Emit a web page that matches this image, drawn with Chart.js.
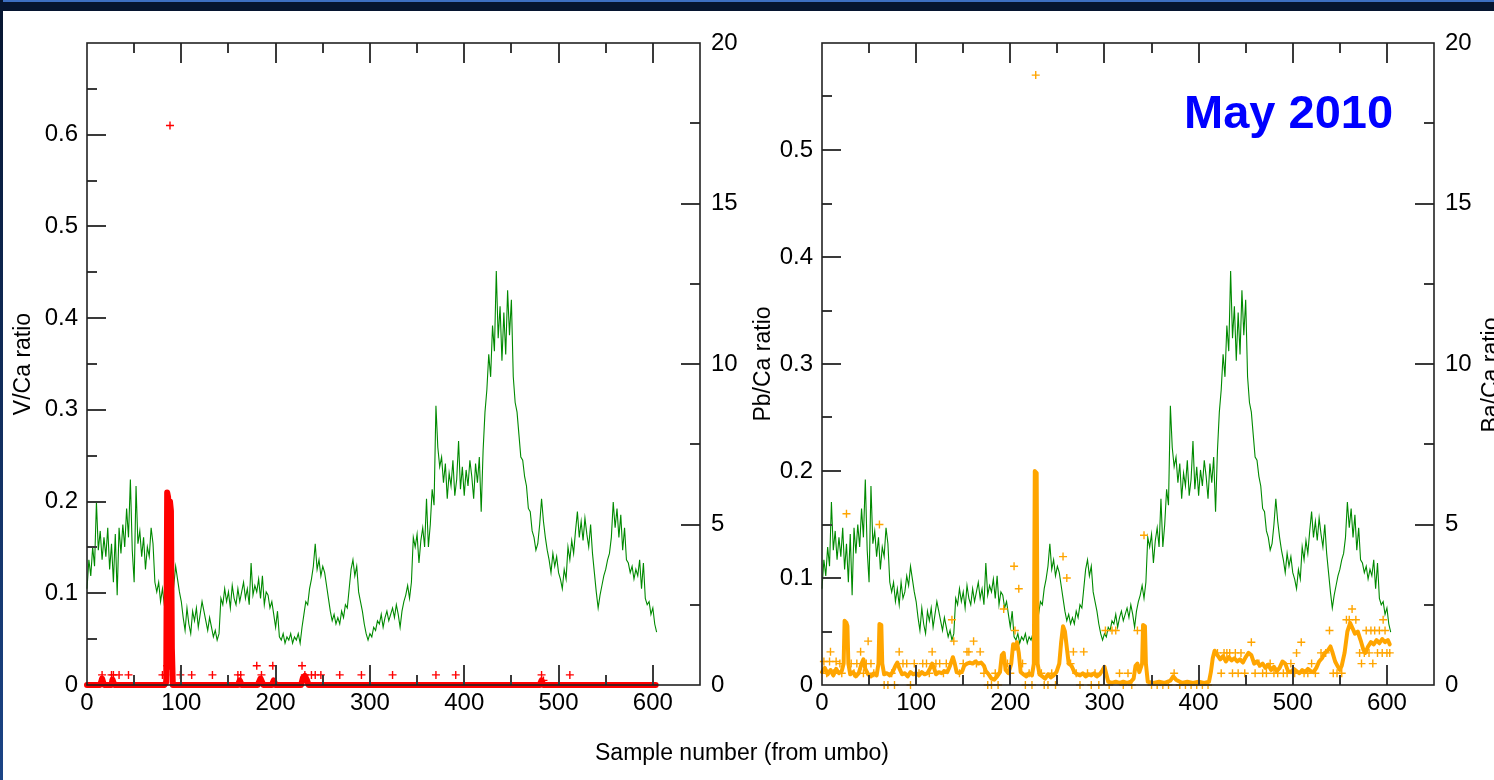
<!DOCTYPE html>
<html>
<head>
<meta charset="utf-8">
<script src="https://cdn.jsdelivr.net/npm/chart.js@4.4.1/dist/chart.umd.min.js"></script>
<style>
  html, body { margin: 0; padding: 0; width: 1494px; height: 780px; overflow: hidden; background: #fff;
    font-family: "Liberation Sans", Arial, sans-serif; }
  #topbar { position: absolute; left: 0; top: 0; width: 1494px; height: 11px; background: #061530;
    border-top: 2px solid #3d6fc2; box-sizing: border-box; }
  #leftbar { position: absolute; left: 0; top: 0; width: 3px; height: 780px; background: linear-gradient(#061530, #1b4486); }
  canvas { position: absolute; top: 0; }
  #chartA { left: 0; }
  #chartB { left: 740px; }
  .lbl { position: absolute; color: #000; white-space: nowrap; }
  #xTitle { left: 0; width: 1484px; text-align: center; top: 741px; font-size: 23px; line-height: 23px; }
  #dateTitle { left: 1184px; top: 88px; font-size: 47px; line-height: 47px; font-weight: bold; color: #0000ff; }
  #baTitle { left: 1390px; top: 363px; width: 200px; height: 24px; line-height: 24px; font-size: 23px;
    text-align: center; transform: rotate(-90deg); }
</style>
</head>
<body>
<div id="topbar"></div>
<div id="leftbar"></div>
<canvas id="chartA" width="760" height="780"></canvas>
<canvas id="chartB" width="754" height="780"></canvas>
<div class="lbl" id="xTitle">Sample number (from umbo)</div>
<div class="lbl" id="dateTitle">May 2010</div>
<div class="lbl" id="baTitle">Ba/Ca ratio</div>
<script>
"use strict";

// ---------------- DATA ----------------
const xTicks = [0, 100, 200, 300, 400, 500, 600];
const vcaTicks = [0, 0.1, 0.2, 0.3, 0.4, 0.5, 0.6];
const pbcaTicks = [0, 0.1, 0.2, 0.3, 0.4, 0.5];
const bacaTicks = [0, 5, 10, 15, 20];

// Ba/Ca (right axis, both panels), one value every 2 samples from 0
const baStep = 2;
const baValues = [
  3.0, 3.9, 3.4, 4.3, 3.7, 5.7, 4.2, 4.8, 3.9, 4.6, 4.0,
  4.9, 3.6, 4.4, 3.2, 4.7, 2.8, 4.9, 4.1, 5.0, 4.3,
  5.5, 4.6, 6.4, 4.2, 3.2, 6.2, 4.4, 4.8, 4.0, 4.6,
  3.6, 4.3, 4.0, 4.9, 4.4, 3.2, 2.9, 3.2, 2.6, 3.0,
  2.5, 3.2, 2.7, 2.9, 3.4, 3.1, 3.7, 3.3, 2.9, 2.6,
  2.1, 1.7, 2.4, 1.9, 1.6, 2.3, 2.0, 2.4, 1.8, 2.2,
  2.6, 2.3, 2.0, 1.7, 2.1, 1.8, 1.5, 1.7, 1.4, 1.6,
  2.7, 2.5, 3.0, 2.6, 2.9, 2.4, 3.1, 2.7, 2.5, 3.0,
  2.6, 2.9, 3.2, 2.7, 3.0, 2.5, 3.8, 2.8, 3.1, 2.9,
  3.3, 2.7, 3.4, 2.5, 2.9, 2.8, 2.4, 2.6, 2.2, 1.8,
  2.3, 1.5, 1.4, 1.6, 1.3, 1.5, 1.4, 1.6, 1.3, 1.5,
  1.4, 1.6, 1.3, 1.8, 2.2, 2.6, 2.5, 3.0, 3.3, 3.7,
  4.4, 3.6, 3.9, 3.4, 3.7, 3.5, 3.1, 2.7, 2.3, 2.0,
  2.2, 1.9, 2.1, 1.9, 2.3, 2.1, 2.5, 2.4, 3.0, 3.6,
  3.9, 3.4, 3.7, 2.9, 2.6, 2.3, 1.9, 1.6, 1.4, 1.6,
  1.5, 1.8, 1.7, 2.0, 1.9, 2.2, 1.8, 2.1, 2.3, 2.0,
  2.2, 2.4, 2.1, 2.5, 2.2, 1.8, 2.3, 2.6, 2.8, 3.1,
  2.7, 3.2, 4.6, 4.3, 4.7, 3.8, 4.5, 4.9, 4.3, 5.8,
  4.3, 5.0, 6.1, 5.6, 8.7, 7.4, 6.8, 7.1, 6.3, 6.9,
  5.8, 6.6, 6.2, 7.0, 5.9, 6.4, 7.6, 6.1, 6.8, 5.9,
  6.7, 6.2, 7.0, 6.5, 5.8, 6.9, 6.3, 7.1, 5.4, 7.3,
  8.5, 9.2, 10.3, 9.6, 11.2, 10.4, 12.9, 10.8, 11.8, 10.1,
  11.6, 10.3, 12.3, 10.9, 12.0, 9.6, 8.8, 8.5, 7.8, 7.1,
  7.0, 6.5, 6.2, 5.5, 5.4, 4.8, 4.6, 4.2, 4.4, 5.0,
  5.8, 5.1, 4.6, 4.2, 3.9, 3.5, 4.1, 3.7, 4.0, 3.5,
  3.3, 3.0, 3.6, 3.3, 4.3, 3.9, 4.5, 4.1, 4.8, 5.4,
  4.6, 5.1, 4.5, 5.2, 4.7, 4.3, 5.0, 4.1, 3.5, 2.9,
  2.4, 2.8, 3.1, 3.4, 3.6, 3.9, 4.1, 4.6, 5.7, 4.9,
  5.5, 4.6, 5.3, 4.2, 4.9, 3.9, 3.8, 3.5, 3.7, 3.3,
  3.6, 3.4, 3.9, 3.0, 3.8, 2.7, 2.5, 2.6, 2.2, 2.4,
  1.9, 1.65
];

// V/Ca smoothed line
const vcaLineX = [0, 14, 16, 18, 26, 27, 29, 82, 84, 85, 86, 87, 88, 89, 90, 91, 160, 162, 164,
  181, 184, 187, 196, 198, 200, 227, 229, 231, 233, 235, 480, 482, 484, 603];
const vcaLineY = [0, 0, 0.007, 0, 0, 0.006, 0, 0, 0.003, 0.21, 0.205, 0.02, 0.2, 0.19, 0.04, 0, 0, 0.005, 0,
  0, 0.007, 0, 0, 0.005, 0, 0, 0.008, 0.01, 0.006, 0, 0, 0.005, 0, 0];

// V/Ca raw points
const vcaRawX = [16, 26, 28, 34, 44, 80, 83, 85, 88, 99, 111, 133, 160, 163, 180, 185, 197, 228, 231,
  238, 242, 248, 268, 291, 324, 370, 391, 482, 484, 512];
const vcaRawY = [0.011, 0.011, 0.011, 0.011, 0.011, 0.011, 0.011, 0.021, 0.61, 0.011, 0.011, 0.011, 0.011,
  0.011, 0.021, 0.011, 0.021, 0.021, 0.011, 0.011, 0.011, 0.011, 0.011, 0.011, 0.011, 0.011, 0.011,
  0.011, 0.005, 0.011];

// Pb/Ca smoothed line
const pbLineX = [0, 3, 6, 9, 12, 15, 18, 21, 23, 24, 26, 27, 28, 30, 33, 36, 39, 42, 44, 46, 49, 52, 55,
  58, 60, 61, 63, 64, 66, 69, 72, 75, 78, 80, 82, 85, 88, 91, 94, 97, 100, 103, 106, 109, 112, 115,
  117, 119, 121, 124, 127, 130, 133, 136, 139, 141, 143, 146, 149, 151, 154, 157, 160, 163, 166, 169,
  172, 174, 177, 180, 183, 186, 189, 191, 193, 195, 198, 201, 203, 205, 207, 209, 211, 214, 217, 220,
  223, 225, 226, 228, 229, 231, 234, 237, 240, 243, 246, 249, 252, 254, 256, 258, 260, 262, 265, 268,
  271, 274, 277, 280, 283, 286, 289, 292, 295, 298, 300, 302, 304, 308, 312, 316, 320, 324, 328, 331,
  333, 335, 337, 340, 341, 343, 344, 346, 352, 358, 364, 370, 373, 376, 382, 388, 394, 400, 406, 411,
  413, 415, 417, 420, 423, 426, 429, 432, 435, 438, 441, 444, 447, 450, 453, 456, 459, 462, 465, 468,
  471, 474, 477, 480, 483, 486, 489, 492, 495, 498, 501, 504, 507, 510, 513, 516, 519, 522, 525, 528,
  531, 534, 537, 540, 542, 545, 548, 550, 552, 555, 558, 561, 563, 566, 569, 572, 575, 577, 580, 583,
  586, 589, 592, 595, 598, 601, 603];
const pbLineY = [0.012, 0.016, 0.010, 0.014, 0.009, 0.015, 0.011, 0.013, 0.02, 0.06, 0.058, 0.055, 0.02,
  0.01, 0.012, 0.008, 0.011, 0.02, 0.024, 0.015, 0.01, 0.008, 0.011, 0.009, 0.02, 0.057, 0.056, 0.02,
  0.01, 0.011, 0.009, 0.012, 0.018, 0.021, 0.016, 0.01, 0.011, 0.008, 0.012, 0.01, 0.011, 0.009, 0.012,
  0.01, 0.011, 0.016, 0.02, 0.016, 0.01, 0.012, 0.011, 0.013, 0.012, 0.018, 0.026, 0.02, 0.012, 0.011,
  0.013, 0.018, 0.02, 0.021, 0.02, 0.022, 0.02, 0.021, 0.018, 0.013, 0.01, 0.006, 0.005, 0.008, 0.012,
  0.028, 0.03, 0.014, 0.011, 0.02, 0.038, 0.034, 0.04, 0.03, 0.012, 0.01, 0.008, 0.011, 0.009, 0.02,
  0.2, 0.198, 0.02, 0.01, 0.008, 0.006, 0.01, 0.007, 0.009, 0.012, 0.02, 0.04, 0.055, 0.05, 0.035, 0.02,
  0.018, 0.012, 0.01, 0.009, 0.011, 0.008, 0.01, 0.009, 0.011, 0.008, 0.01, 0.014, 0.017, 0.01, 0.003,
  0.002, 0.003, 0.002, 0.003, 0.002, 0.003, 0.006, 0.018, 0.02, 0.012, 0.02, 0.056, 0.055, 0.02, 0.003,
  0.002, 0.003, 0.002, 0.004, 0.008, 0.005, 0.002, 0.003, 0.002, 0.003, 0.002, 0.003, 0.012, 0.025,
  0.032, 0.028, 0.024, 0.027, 0.022, 0.026, 0.023, 0.025, 0.022, 0.024, 0.021, 0.026, 0.03, 0.028, 0.02,
  0.022, 0.018, 0.02, 0.016, 0.019, 0.014, 0.017, 0.013, 0.016, 0.022, 0.02, 0.013, 0.012, 0.015, 0.013,
  0.011, 0.014, 0.012, 0.015, 0.013, 0.012, 0.016, 0.022, 0.025, 0.03, 0.032, 0.036, 0.031, 0.022,
  0.017, 0.014, 0.018, 0.03, 0.05, 0.058, 0.054, 0.048, 0.05, 0.042, 0.033, 0.03, 0.036, 0.04, 0.038,
  0.042, 0.039, 0.043, 0.04, 0.042, 0.038];

// Pb/Ca raw points
const pbRawX = [227, 9, 26, 41, 49, 61, 82, 117, 138, 140, 154, 156, 161, 168, 193, 204, 205, 209, 256,
  260, 267, 278, 301, 308, 312, 335, 342,
  2, 5, 8, 12, 15, 19, 21, 31, 34, 37, 44, 47, 52, 55, 66, 70, 74, 77, 86, 90, 94, 98, 103, 107, 111,
  114, 121, 125, 129, 132, 146, 150, 164, 172, 176, 180, 184, 187, 197, 200, 213, 216, 220, 223, 233,
  236, 240, 244, 248, 264, 270, 274, 282, 286, 290, 294, 305, 316, 320, 325, 329, 350, 356, 362, 368,
  374, 380, 386, 392, 398, 404, 410,
  420, 424, 427, 430, 433, 436, 439, 442, 445, 449, 456, 460, 464, 468, 472, 476, 480, 484, 490, 494,
  498, 502, 504, 509, 512, 516, 520, 524, 530, 535, 539, 543, 547, 552, 557, 560, 563, 567, 571, 573,
  576, 578, 581, 583, 585, 587, 590, 592, 595, 596, 598, 600, 603];
const pbRawY = [0.57, 0.031, 0.16, 0.031, 0.041, 0.15, 0.031, 0.031, 0.061, 0.041, 0.031, 0.031, 0.041,
  0.031, 0.071, 0.111, 0.051, 0.09, 0.12, 0.10, 0.031, 0.031, 0.051, 0.051, 0.051, 0.051, 0.14,
  0.022, 0.011, 0.022, 0.011, 0.022, 0.02, 0.011, 0.02, 0.011, 0.02, 0.011, 0.02, 0.02, 0.011, 0, 0,
  0.011, 0, 0.02, 0.02, 0, 0.02, 0.011, 0.02, 0.02, 0.011, 0.02, 0.02, 0.011, 0.02, 0.011, 0.02, 0.02,
  0.011, 0, 0, 0.011, 0, 0.02, 0.011, 0.02, 0, 0.011, 0, 0.011, 0, 0, 0.011, 0, 0.02, 0.011, 0, 0.011,
  0, 0.011, 0, 0, 0.011, 0, 0.011, 0, 0, 0, 0, 0, 0.011, 0, 0, 0, 0, 0, 0,
  0.03, 0.011, 0.03, 0.03, 0.03, 0.011, 0.03, 0.011, 0.03, 0.011, 0.04, 0.011, 0.02, 0.011, 0.011, 0.02,
  0.011, 0.011, 0.011, 0.011, 0.02, 0.011, 0.03, 0.04, 0.011, 0.011, 0.02, 0.011, 0.03, 0.03, 0.051,
  0.011, 0.011, 0.011, 0.061, 0.061, 0.071, 0.061, 0.03, 0.02, 0.03, 0.051, 0.03, 0.051, 0.02, 0.051,
  0.03, 0.051, 0.03, 0.061, 0.051, 0.03, 0.03];

// ---------------- HELPERS ----------------
const FONT = "'Liberation Sans', Arial, sans-serif";
const RED = "#ff0000";
const ORANGE = "#ffa500";
const GREEN = "#008a00";

const toPoints = (xs, ys) => xs.map((x, i) => ({ x, y: ys[i] }));
const baPoints = baValues.map((v, i) => ({ x: i * baStep, y: v }));

// frame + inward tick marks, drawn over the data like the original
const frameTicks = {
  id: "frameTicks",
  afterDatasetsDraw(chart) {
    const { ctx, chartArea: a, scales } = chart;
    const line = (x1, y1, x2, y2) => {
      ctx.beginPath();
      ctx.moveTo(x1, y1);
      ctx.lineTo(x2, y2);
      ctx.stroke();
    };
    ctx.save();
    ctx.strokeStyle = "#3a3a3a";
    ctx.lineWidth = 2;
    for (let v = 50; v < 650; v += 50) {
      const px = Math.round(scales.x.getPixelForValue(v));
      const len = v % 100 === 0 ? 20 : 10;
      line(px, a.bottom, px, a.bottom - len);
      line(px, a.top, px, a.top + len);
    }
    const yMax = scales.y.max;
    for (let i = 1; i * 0.05 < yMax - 1e-9; i++) {
      const py = Math.round(scales.y.getPixelForValue(i * 0.05));
      line(a.left, py, a.left + (i % 2 === 0 ? 19 : 10), py);
    }
    for (let i = 1; i < 8; i++) {
      const py = Math.round(scales.y1.getPixelForValue(i * 2.5));
      line(a.right, py, a.right - (i % 2 === 0 ? 19 : 10), py);
    }
    ctx.strokeStyle = "#222";
    ctx.lineWidth = 1.6;
    ctx.strokeRect(a.left, a.top, a.right - a.left, a.bottom - a.top);
    ctx.restore();
  },
};

function tickFont() {
  return { family: FONT, size: 24 };
}

function buildPanel(id, cfg) {
  const el = document.getElementById(id);
  const W = el.width;
  return new Chart(el, {
    type: "line",
    data: { datasets: cfg.datasets },
    options: {
      responsive: false,
      animation: false,
      events: [],
      layout: { padding: { top: 43, left: 0, right: 0, bottom: 0 } },
      plugins: { legend: { display: false }, tooltip: { enabled: false } },
      scales: {
        x: {
          type: "linear",
          min: 0,
          max: 650,
          grid: { display: false, drawTicks: false },
          border: { display: false },
          afterBuildTicks: (s) => { s.ticks = xTicks.map((v) => ({ value: v })); },
          afterFit: (s) => { s.height = 95; },
          ticks: { font: tickFont(), color: "#000", padding: 4, maxRotation: 0, autoSkip: false,
            callback: (v) => String(v) },
        },
        y: {
          position: "left",
          min: 0,
          max: cfg.leftMax,
          grid: { display: false, drawTicks: false },
          border: { display: false },
          afterBuildTicks: (s) => { s.ticks = cfg.leftTicks.map((v) => ({ value: v })); },
          afterFit: (s) => { s.width = cfg.plotLeft; },
          ticks: { font: tickFont(), color: "#000", padding: 9, autoSkip: false, callback: (v) => String(v) },
          title: { display: true, text: cfg.leftTitle, color: "#000", font: { family: FONT, size: 23 },
            padding: { top: 10, bottom: 0 } },
        },
        y1: {
          position: "right",
          min: 0,
          max: 20,
          grid: { display: false, drawTicks: false },
          border: { display: false },
          afterBuildTicks: (s) => { s.ticks = bacaTicks.map((v) => ({ value: v })); },
          afterFit: (s) => { s.width = W - cfg.plotRight; },
          ticks: { font: tickFont(), color: "#000", padding: 11, autoSkip: false, callback: (v) => String(v) },
        },
      },
    },
    plugins: [frameTicks],
  });
}

function rawSet(points, color) {
  return {
    data: points, yAxisID: "y", showLine: false, clip: 12,
    pointStyle: "cross", pointRadius: 4, pointBorderWidth: 1.4,
    pointBorderColor: color, pointBackgroundColor: color, borderColor: color,
  };
}
function smoothSet(points, color, width) {
  return {
    data: points, yAxisID: "y", clip: 12, borderColor: color, borderWidth: width,
    pointRadius: 0, tension: 0, borderJoinStyle: "round", borderCapStyle: "round",
  };
}
function baSet() {
  return {
    data: baPoints, yAxisID: "y1", clip: 4, borderColor: GREEN, borderWidth: 1.1,
    pointRadius: 0, tension: 0,
  };
}

// ---------------- BUILD ----------------
buildPanel("chartA", {
  plotLeft: 87,
  plotRight: 700,
  leftMax: 0.7,
  leftTicks: vcaTicks,
  leftTitle: "V/Ca ratio",
  datasets: [
    rawSet(toPoints(vcaRawX, vcaRawY), RED),
    smoothSet(toPoints(vcaLineX, vcaLineY), RED, 6),
    baSet(),
  ],
});

buildPanel("chartB", {
  plotLeft: 82,
  plotRight: 694,
  leftMax: 0.6,
  leftTicks: pbcaTicks,
  leftTitle: "Pb/Ca ratio",
  datasets: [
    rawSet(toPoints(pbRawX, pbRawY), ORANGE),
    smoothSet(toPoints(pbLineX, pbLineY), ORANGE, 4),
    baSet(),
  ],
});
</script>
</body>
</html>
